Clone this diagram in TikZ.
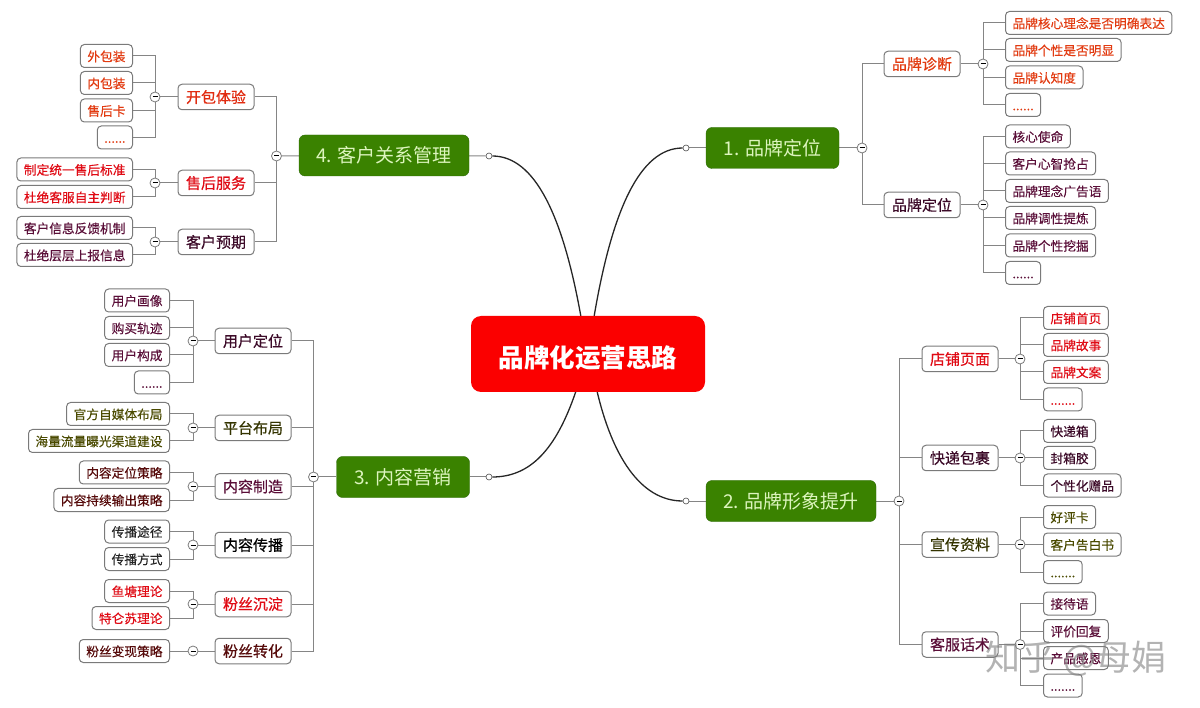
\documentclass[tikz,border=0pt]{standalone}
\usepackage{fontspec}
\setmainfont{Noto Sans CJK SC}
\newfontfamily\subfont[FakeBold=0.5]{Noto Sans CJK SC}
\newfontfamily\leaffont[FakeBold=0.2]{Noto Sans CJK SC}
\usetikzlibrary{backgrounds}
\definecolor{rootred}{HTML}{FB0000}
\definecolor{maingreen}{HTML}{3A8200}
\definecolor{mainline}{HTML}{2C6A08}
\definecolor{maintext}{HTML}{DDF5BE}
\definecolor{wire}{HTML}{858585}
\definecolor{box}{HTML}{7A7A7A}
\definecolor{orangered}{HTML}{E23A10}
\definecolor{pure}{HTML}{E00A14}
\definecolor{maroon}{HTML}{5A0E38}
\definecolor{darkplum}{HTML}{3C0A28}
\definecolor{olive}{HTML}{4A4A00}
\definecolor{darkred}{HTML}{560A0A}
\tikzset{
	rootnode/.style={fill=rootred, text=white, rounded corners=10pt, minimum width=234pt, minimum height=76pt, inner ysep=0pt, text height=30pt, text depth=3pt, font=\fontsize{25.5}{28}\selectfont\bfseries},
	mainnode/.style={draw=mainline, fill=maingreen, text=maintext, rounded corners=6pt, minimum height=41pt, font=\fontsize{19}{22}\selectfont},
	subnode/.style={draw=box, fill=white, rounded corners=4pt, line width=1pt, minimum width=76pt, minimum height=25.5pt, inner ysep=0pt, text height=13pt, text depth=1.5pt, font=\fontsize{15}{18}\subfont},
	leafnode/.style={draw=box, fill=white, rounded corners=4pt, line width=1pt, minimum height=23pt, inner xsep=7pt, inner ysep=0pt, text height=11.5pt, text depth=1pt, font=\fontsize{12.7}{15}\leaffont},
	leafr/.style={leafnode, anchor=west},
	leafl/.style={leafnode, anchor=east},
	fold/.style={circle, draw=box, fill=white, line width=.8pt, minimum size=10pt, inner sep=0pt, path picture={\draw[black, line width=1pt] ([xshift=-2.5pt]path picture bounding box.center)--([xshift=2.5pt]path picture bounding box.center);}},
	knob/.style={circle, draw=black!70, fill=white, line width=.6pt, minimum size=6pt, inner sep=0pt},
	wired/.style={draw=wire, line width=1pt},
	curved/.style={draw=black!85, line width=1.3pt},
}
\begin{document}
\begin{tikzpicture}[x=1pt, y=1pt, yscale=-1]
	\useasboundingbox (0,0) rectangle (1200,708);
	% centre
	\node[rootnode] (root) at (588,354) {品牌化运营思路};
	\coordinate (rootne) at (594,317);
	\coordinate (rootnw) at (581,317);
	\coordinate (rootse) at (597,391);
	\coordinate (rootsw) at (576,391);
	% 1
	\node[mainnode, minimum width=133pt] (m1) at (772.5,148) {1. 品牌定位};
	\node[knob] (k1) at (686,148) {};
	\node[fold] (f1) at (862,148) {};
	\node[subnode, text=orangered] (m1a) at (922,64) {品牌诊断};
	\node[subnode, text=darkplum] (m1b) at (922,205) {品牌定位};
	\node[fold] (f1a) at (983,64) {};
	\node[fold] (f1b) at (983,205) {};
	\node[leafr, text=orangered] (m1a1) at (1005,23) {品牌核心理念是否明确表达};
	\node[leafr, text=orangered] (m1a2) at (1005,50) {品牌个性是否明显};
	\node[leafr, text=orangered] (m1a3) at (1005,77.5) {品牌认知度};
	\node[leafr, text=orangered, minimum width=33pt] (m1a4) at (1005,105) {......};
	\node[leafr, text=maroon] (m1b1) at (1005,136.5) {核心使命};
	\node[leafr, text=maroon] (m1b2) at (1005,163.5) {客户心智抢占};
	\node[leafr, text=maroon] (m1b3) at (1005,191) {品牌理念广告语};
	\node[leafr, text=maroon] (m1b4) at (1005,218) {品牌调性提炼};
	\node[leafr, text=maroon] (m1b5) at (1005,245.5) {品牌个性挖掘};
	\node[leafr, text=maroon, minimum width=33pt] (m1b6) at (1005,273) {......};
	% 2
	\node[mainnode, minimum width=170pt] (m2) at (791,501) {2. 品牌形象提升};
	\node[knob] (k2) at (686,501) {};
	\node[fold] (f2) at (899,501) {};
	\node[subnode, text=pure] (m2a) at (960,359) {店铺页面};
	\node[subnode, text=darkplum] (m2b) at (960,458) {快递包裹};
	\node[subnode, text=olive!70!black] (m2c) at (960,544.5) {宣传资料};
	\node[subnode, text=maroon] (m2d) at (960,644.5) {客服话术};
	\node[fold] (f2a) at (1020,359) {};
	\node[fold] (f2b) at (1020,458) {};
	\node[fold] (f2c) at (1020,544.5) {};
	\node[fold] (f2d) at (1020,644.5) {};
	\node[leafr, text=pure] (m2a1) at (1043,318) {店铺首页};
	\node[leafr, text=pure] (m2a2) at (1043,345) {品牌故事};
	\node[leafr, text=pure] (m2a3) at (1043,372) {品牌文案};
	\node[leafr, text=pure, minimum width=35pt] (m2a4) at (1043,399.5) {.......};
	\node[leafr, text=darkplum] (m2b1) at (1043,431) {快递箱};
	\node[leafr, text=darkplum] (m2b2) at (1043,458) {封箱胶};
	\node[leafr, text=darkplum] (m2b3) at (1043,485.5) {个性化赠品};
	\node[leafr, text=olive] (m2c1) at (1043,517) {好评卡};
	\node[leafr, text=olive] (m2c2) at (1043,544.5) {客户告白书};
	\node[leafr, text=olive, minimum width=35pt] (m2c3) at (1043,572) {.......};
	\node[leafr, text=maroon] (m2d1) at (1043,603.5) {接待语};
	\node[leafr, text=maroon] (m2d2) at (1043,631) {评价回复};
	\node[leafr, text=maroon] (m2d3) at (1043,658) {产品感恩};
	\node[leafr, text=maroon, minimum width=35pt] (m2d4) at (1043,685.5) {.......};
	% 3
	\node[mainnode, minimum width=133pt] (m3) at (403,477) {3. 内容营销};
	\node[knob] (k3) at (489,477) {};
	\node[fold] (f3) at (313.5,477) {};
	\node[subnode, text=darkplum] (m3a) at (253,341) {用户定位};
	\node[subnode, text=olive!70!black] (m3b) at (253,428) {平台布局};
	\node[subnode, text=maroon] (m3c) at (253,486.5) {内容制造};
	\node[subnode, text=black] (m3d) at (253,545) {内容传播};
	\node[subnode, text=pure] (m3e) at (253,604) {粉丝沉淀};
	\node[subnode, text=darkred] (m3f) at (253,651) {粉丝转化};
	\node[fold] (f3a) at (193,341) {};
	\node[fold] (f3b) at (193,428) {};
	\node[fold] (f3c) at (193,486.5) {};
	\node[fold] (f3d) at (193,545) {};
	\node[fold] (f3e) at (193,604) {};
	\node[fold] (f3f) at (193,651) {};
	\node[leafl, text=maroon] (m3a1) at (170,300.5) {用户画像};
	\node[leafl, text=maroon] (m3a2) at (170,328) {购买轨迹};
	\node[leafl, text=maroon] (m3a3) at (170,355) {用户构成};
	\node[leafl, text=maroon, minimum width=32pt] (m3a4) at (170,382.5) {......};
	\node[leafl, text=olive] (m3b1) at (170,414) {官方自媒体布局};
	\node[leafl, text=olive] (m3b2) at (170,441) {海量流量曝光渠道建设};
	\node[leafl, text=darkred] (m3c1) at (170,472.5) {内容定位策略};
	\node[leafl, text=darkred] (m3c2) at (170,500) {内容持续输出策略};
	\node[leafl, text=black!85] (m3d1) at (170,531.5) {传播途径};
	\node[leafl, text=black!85] (m3d2) at (170,559) {传播方式};
	\node[leafl, text=pure] (m3e1) at (170,591) {鱼塘理论};
	\node[leafl, text=pure] (m3e2) at (170,618) {特仑苏理论};
	\node[leafl, text=darkred] (m3f1) at (170,651) {粉丝变现策略};
	% 4
	\node[mainnode, minimum width=170pt] (m4) at (384,155.5) {4. 客户关系管理};
	\node[knob] (k4) at (489,156) {};
	\node[fold] (f4) at (276.5,156) {};
	\node[subnode, text=orangered!70!pure] (m4a) at (216,97) {开包体验};
	\node[subnode, text=pure] (m4b) at (216,183) {售后服务};
	\node[subnode, text=darkplum] (m4c) at (216,242) {客户预期};
	\node[fold] (f4a) at (155,97) {};
	\node[fold] (f4b) at (155,183) {};
	\node[fold] (f4c) at (155,242) {};
	\node[leafl, text=orangered] (m4a1) at (133,56) {外包装};
	\node[leafl, text=orangered] (m4a2) at (133,83) {内包装};
	\node[leafl, text=orangered] (m4a3) at (133,110.5) {售后卡};
	\node[leafl, text=orangered, minimum width=32pt] (m4a4) at (133,137.5) {......};
	\node[leafl, text=pure] (m4b1) at (133,169.5) {制定统一售后标准};
	\node[leafl, text=pure] (m4b2) at (133,197) {杜绝客服自主判断};
	\node[leafl, text=maroon] (m4c1) at (133,228) {客户信息反馈机制};
	\node[leafl, text=maroon] (m4c2) at (133,255) {杜绝层层上报信息};
	\begin{pgfonlayer}{background}
	% curves out of the centre
	\draw[curved] (rootne) .. controls (612,210) and (640,148) .. (k1);
	\draw[curved] (rootse) .. controls (612,455) and (640,501) .. (k2);
	\draw[curved] (rootsw) .. controls (556,450) and (530,477) .. (k3);
	\draw[curved] (rootnw) .. controls (563,216) and (535,156) .. (k4);
	\draw[wired] (m1)--(k1);
	\draw[wired] (m2)--(k2);
	\draw[wired] (m3)--(k3);
	\draw[wired] (m4)--(k4);
	% 1
	\draw[wired] (m1)--(f1);
	\draw[wired] (m1a.west) -| (f1);
	\draw[wired] (m1b.west) -| (f1);
	\draw[wired] (m1a)--(f1a);
	\draw[wired] (m1b)--(f1b);
	\draw[wired] (m1a1.west) -| (f1a);
	\draw[wired] (m1a2.west) -| (f1a);
	\draw[wired] (m1a3.west) -| (f1a);
	\draw[wired] (m1a4.west) -| (f1a);
	\draw[wired] (m1b1.west) -| (f1b);
	\draw[wired] (m1b2.west) -| (f1b);
	\draw[wired] (m1b3.west) -| (f1b);
	\draw[wired] (m1b4.west) -| (f1b);
	\draw[wired] (m1b5.west) -| (f1b);
	\draw[wired] (m1b6.west) -| (f1b);
	% 2
	\draw[wired] (m2)--(f2);
	\draw[wired] (m2a.west) -| (f2);
	\draw[wired] (m2b.west) -| (f2);
	\draw[wired] (m2c.west) -| (f2);
	\draw[wired] (m2d.west) -| (f2);
	\draw[wired] (m2a)--(f2a);
	\draw[wired] (m2b)--(f2b);
	\draw[wired] (m2c)--(f2c);
	\draw[wired] (m2d)--(f2d);
	\draw[wired] (m2a1.west) -| (f2a);
	\draw[wired] (m2a2.west) -| (f2a);
	\draw[wired] (m2a3.west) -| (f2a);
	\draw[wired] (m2a4.west) -| (f2a);
	\draw[wired] (m2b1.west) -| (f2b);
	\draw[wired] (m2b2)--(f2b);
	\draw[wired] (m2b3.west) -| (f2b);
	\draw[wired] (m2c1.west) -| (f2c);
	\draw[wired] (m2c2)--(f2c);
	\draw[wired] (m2c3.west) -| (f2c);
	\draw[wired] (m2d1.west) -| (f2d);
	\draw[wired] (m2d2.west) -| (f2d);
	\draw[wired] (m2d3.west) -| (f2d);
	\draw[wired] (m2d4.west) -| (f2d);
	% 3
	\draw[wired] (m3)--(f3);
	\draw[wired] (m3a.east) -| (f3);
	\draw[wired] (m3b.east) -| (f3);
	\draw[wired] (m3c.east) -| (f3);
	\draw[wired] (m3d.east) -| (f3);
	\draw[wired] (m3e.east) -| (f3);
	\draw[wired] (m3f.east) -| (f3);
	\draw[wired] (m3a)--(f3a);
	\draw[wired] (m3b)--(f3b);
	\draw[wired] (m3c)--(f3c);
	\draw[wired] (m3d)--(f3d);
	\draw[wired] (m3e)--(f3e);
	\draw[wired] (m3f)--(f3f);
	\draw[wired] (m3a1.east) -| (f3a);
	\draw[wired] (m3a2.east) -| (f3a);
	\draw[wired] (m3a3.east) -| (f3a);
	\draw[wired] (m3a4.east) -| (f3a);
	\draw[wired] (m3b1.east) -| (f3b);
	\draw[wired] (m3b2.east) -| (f3b);
	\draw[wired] (m3c1.east) -| (f3c);
	\draw[wired] (m3c2.east) -| (f3c);
	\draw[wired] (m3d1.east) -| (f3d);
	\draw[wired] (m3d2.east) -| (f3d);
	\draw[wired] (m3e1.east) -| (f3e);
	\draw[wired] (m3e2.east) -| (f3e);
	\draw[wired] (m3f1)--(f3f);
	% 4
	\draw[wired] (m4)--(f4);
	\draw[wired] (m4a.east) -| (f4);
	\draw[wired] (m4b.east) -| (f4);
	\draw[wired] (m4c.east) -| (f4);
	\draw[wired] (m4a)--(f4a);
	\draw[wired] (m4b)--(f4b);
	\draw[wired] (m4c)--(f4c);
	\draw[wired] (m4a1.east) -| (f4a);
	\draw[wired] (m4a2.east) -| (f4a);
	\draw[wired] (m4a3.east) -| (f4a);
	\draw[wired] (m4a4.east) -| (f4a);
	\draw[wired] (m4b1.east) -| (f4b);
	\draw[wired] (m4b2.east) -| (f4b);
	\draw[wired] (m4c1.east) -| (f4c);
	\draw[wired] (m4c2.east) -| (f4c);
	\end{pgfonlayer}
	% watermark
	\node[text=black!50, opacity=.6, font=\fontsize{35}{38}\selectfont] (mark) at (1076,659) {知乎 @母娟};
\end{tikzpicture}
\end{document}
